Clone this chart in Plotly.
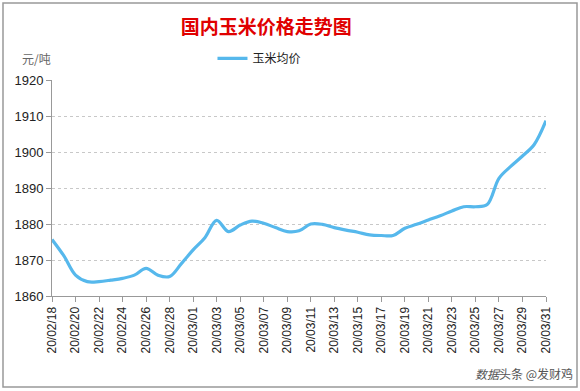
import pandas as pd
import plotly.graph_objects as go

dates = [d.strftime("%y/%m/%d") for d in pd.date_range("2020-02-18", "2020-03-31", freq="D")]
prices = [1875.7, 1871.2, 1865.8, 1864.0, 1864.0, 1864.4, 1864.9, 1865.8, 1867.7, 1865.8,
          1865.4, 1869.0, 1872.8, 1876.2, 1881.0, 1877.9, 1879.7, 1880.8, 1880.2, 1879.0,
          1877.9, 1878.1, 1880.0, 1879.9, 1879.0, 1878.3, 1877.7, 1877.0, 1876.8, 1876.8,
          1878.8, 1879.9, 1881.1, 1882.3, 1883.6, 1884.8, 1884.8, 1885.4, 1892.7, 1896.0,
          1898.9, 1902.1, 1908.7]
tick_labels = dates[::2]
y_ticks = [1860, 1870, 1880, 1890, 1900, 1910, 1920]

fig = go.Figure()
fig.add_trace(go.Scatter(
    x=dates, y=prices, mode="lines", name="玉米均价",
    line=dict(color="#56B8EC", width=3.2, shape="spline", smoothing=1.0),
))

font_main = "Liberation Sans, Noto Sans CJK SC, sans-serif"
fig.update_layout(
    width=580, height=391,
    margin=dict(l=52, r=34, t=80, b=95),
    paper_bgcolor="white", plot_bgcolor="white",
    font=dict(family=font_main, size=12, color="#222"),
    title=dict(text="<b>国内玉米价格走势图</b>", x=0.459, xanchor="center", y=0.93, yanchor="middle",
               font=dict(family="Noto Sans CJK SC", size=19, color="#E00000")),
    showlegend=True,
    legend=dict(orientation="h", x=0.42, xanchor="center", y=1.10, yanchor="middle",
                font=dict(family="Noto Sans CJK SC", size=12, color="#222"),
                bgcolor="rgba(0,0,0,0)"),
    xaxis=dict(type="category", range=[0, len(dates) - 1], tickmode="array",
               tickvals=tick_labels, ticktext=tick_labels, tickangle=-90,
               tickfont=dict(size=12, color="#222"),
               showgrid=False, showline=True, linecolor="#999", linewidth=1,
               ticks="outside", ticklen=5, tickcolor="#999"),
    yaxis=dict(range=[1860, 1920], tickvals=y_ticks, tickfont=dict(size=13, color="#222"),
               showgrid=True, gridcolor="#c8c8c8", griddash="dot", gridwidth=1,
               showline=True, linecolor="#999", linewidth=1,
               ticks="outside", ticklen=5, tickcolor="#999", zeroline=False),
)

fig.add_annotation(text="元/吨", xref="paper", yref="paper", x=-0.032, y=1.10,
                   xanchor="center", yanchor="middle", showarrow=False,
                   font=dict(family="Noto Sans CJK SC", size=12, color="#666"))
fig.add_annotation(text="<i>数据</i>头条 @发财鸡", xref="paper", yref="paper",
                   x=(575 - 52) / 494, y=(296 - 373) / 216, xanchor="right", yanchor="middle",
                   showarrow=False, font=dict(family="Noto Sans CJK SC", size=12, color="#555"))
fig.add_shape(type="rect", xref="paper", yref="paper",
              x0=(3 - 52) / 494, x1=(577 - 52) / 494, y0=(296 - 387) / 216, y1=(296 - 3) / 216,
              line=dict(color="#999", width=1.5), fillcolor="rgba(0,0,0,0)", layer="below")

fig.write_html("out.html", config={"displayModeBar": False},
               post_script="document.body.style.margin='0px';document.body.style.overflow='hidden';")
